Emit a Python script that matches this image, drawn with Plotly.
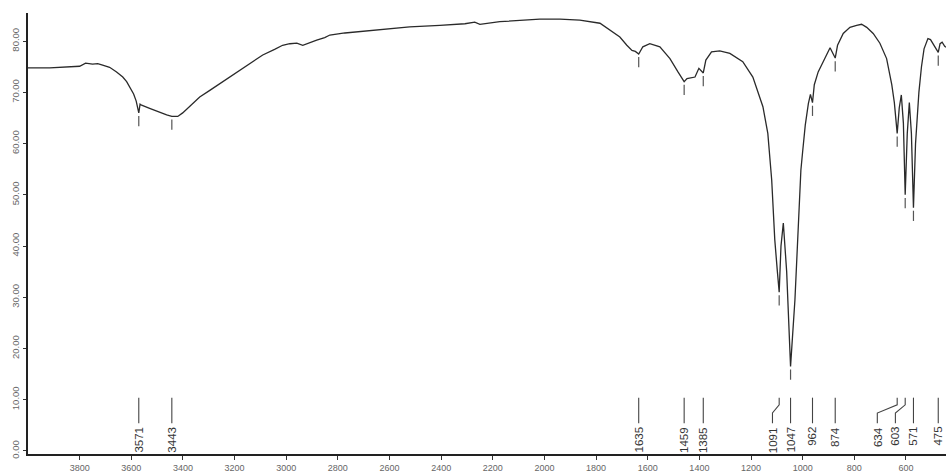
import numpy as np
import plotly.graph_objects as go

# ---- spectrum (wavenumber cm-1, transmittance %) ----
wavenumber = [4000, 3916, 3800, 3777, 3750, 3730, 3711, 3684, 3657, 3633, 3618, 3602,
              3591, 3581, 3571, 3566, 3560, 3529, 3490, 3463, 3443, 3420, 3401, 3374,
              3335, 3296, 3238, 3180, 3134, 3091, 3045, 3014, 2986, 2959, 2936, 2917,
              2882, 2851, 2831, 2773, 2696, 2618, 2522, 2405, 2308, 2270, 2250, 2173,
              2095, 2018, 1940, 1882, 1863, 1785, 1735, 1708, 1681, 1661, 1648, 1635,
              1619, 1592, 1553, 1514, 1483, 1470, 1459, 1448, 1417, 1402, 1385, 1375,
              1353, 1321, 1282, 1232, 1193, 1154, 1135, 1120, 1108, 1098, 1091, 1084,
              1075, 1062, 1047, 1030, 1018, 1007, 1000, 990, 978, 970, 962, 955,
              940, 920, 894, 874, 865, 843, 817, 791, 772, 752, 727, 701,
              675, 655, 645, 634, 626, 618, 610, 603, 595, 587, 579, 571,
              563, 550, 540, 530, 515, 505, 495, 482, 475, 468, 460, 450, 445]
transmittance = [74.8, 74.8, 75.1, 75.7, 75.5, 75.6, 75.3, 74.9, 74.0, 73.0, 72.1, 70.8,
                 69.7, 68.3, 66.0, 67.7, 67.5, 66.9, 66.1, 65.6, 65.3, 65.3, 66.0, 67.3,
                 69.1, 70.4, 72.4, 74.3, 75.9, 77.3, 78.4, 79.2, 79.5, 79.6, 79.2, 79.6,
                 80.2, 80.7, 81.2, 81.6, 82.0, 82.4, 82.8, 83.1, 83.4, 83.7, 83.3, 83.8,
                 84.1, 84.3, 84.3, 84.2, 84.1, 83.5, 81.8, 80.8, 79.2, 78.2, 78.0, 77.5,
                 78.9, 79.5, 78.9, 76.6, 74.0, 73.0, 72.1, 72.7, 73.0, 74.7, 73.8, 76.3,
                 77.9, 78.1, 77.6, 76.0, 73.0, 67.2, 62.0, 52.9, 41.2, 35.0, 31.0, 40.0,
                 44.5, 35.0, 16.5, 29.5, 43.1, 54.8, 58.5, 63.6, 67.8, 69.6, 68.0, 71.5,
                 74.0, 76.0, 78.7, 76.7, 79.2, 81.5, 82.7, 83.1, 83.3, 82.7, 81.5, 79.6,
                 76.6, 71.5, 68.0, 62.0, 67.0, 69.5, 64.0, 50.0, 62.0, 68.0, 62.0, 47.5,
                 60.0, 70.0, 75.0, 78.5, 80.5, 80.3, 79.5, 78.5, 77.8, 79.5, 79.8, 79.0, 78.8]

# ---- labelled peaks ----
peaks = [3571, 3443, 1635, 1459, 1385, 1091, 1047, 962, 874, 634, 603, 571, 475]

# ---- axes ----
x_ticks = [3800, 3600, 3400, 3200, 3000, 2800, 2600, 2400, 2200, 2000,
           1800, 1600, 1400, 1200, 1000, 800, 600]
y_ticks = [0, 10, 20, 30, 40, 50, 60, 70, 80]
y_tick_text = ["0.00", "10.00", "20.00", "30.00", "40.00", "50.00", "60.00", "70.00", "80.00"]

X_RANGE = [4000, 445]
Y_RANGE = [-0.6, 85.5]
LINE = "#2a2a2a"
FONT = "Liberation Sans, Arial"

fig = go.Figure()
fig.add_trace(go.Scatter(x=wavenumber, y=transmittance, mode="lines",
                         line=dict(color=LINE, width=1.3), hoverinfo="skip",
                         showlegend=False))

# small peak markers just below each labelled minimum
wn_asc = np.array(wavenumber[::-1], dtype=float)
tr_asc = np.array(transmittance[::-1], dtype=float)
mx, my = [], []
for p in peaks:
    t = float(np.interp(p, wn_asc, tr_asc))
    mx += [p, p, None]
    my += [t - 0.6, t - 2.6, None]
fig.add_trace(go.Scatter(x=mx, y=my, mode="lines", line=dict(color="#555", width=1.2),
                         hoverinfo="skip", showlegend=False))

# declutter label positions (in wavenumber units), pushing leftwards from the low end
gap = 70.0
label_pos = {}
prev = None
for p in sorted(peaks):
    lx = float(p) if prev is None else max(float(p), prev + gap)
    label_pos[p] = lx
    prev = lx

shapes = []
for p in peaks:
    lx = label_pos[p]
    if abs(lx - p) < 3:
        path = f"M {p},10.4 L {p},5.4"
    else:
        path = f"M {p},10.4 L {p},9.0 L {lx},7.4 L {lx},5.4"
    shapes.append(dict(type="path", path=path, xref="x", yref="y",
                       line=dict(color="#444", width=1.1)))
    fig.add_annotation(x=lx, y=5.1, text=str(p), textangle=-90, showarrow=False,
                       xanchor="center", yanchor="top",
                       font=dict(size=11.5, color="#333", family=FONT))

fig.update_layout(
    width=946, height=474,
    margin=dict(l=28, r=0, t=13, b=20),
    paper_bgcolor="white", plot_bgcolor="white",
    shapes=shapes,
    showlegend=False,
    xaxis=dict(range=X_RANGE, tickvals=x_ticks, ticktext=[str(v) for v in x_ticks],
               ticks="outside", ticklen=4, tickwidth=1, tickcolor="#333",
               showline=True, linecolor="#222", linewidth=1.5, showgrid=False,
               zeroline=False, tickfont=dict(size=9, color="#666", family=FONT)),
    yaxis=dict(range=Y_RANGE, tickvals=y_ticks, ticktext=y_tick_text, tickangle=-90,
               ticks="outside", ticklen=3, tickwidth=1, tickcolor="#333",
               showline=True, linecolor="#222", linewidth=1.5, showgrid=False,
               zeroline=False, tickfont=dict(size=9.5, color="#666", family=FONT)),
)

fig.write_html("out.html",
               config={"displayModeBar": False},
               post_script="document.body.style.margin='0';"
                           "document.body.style.overflow='hidden';")
